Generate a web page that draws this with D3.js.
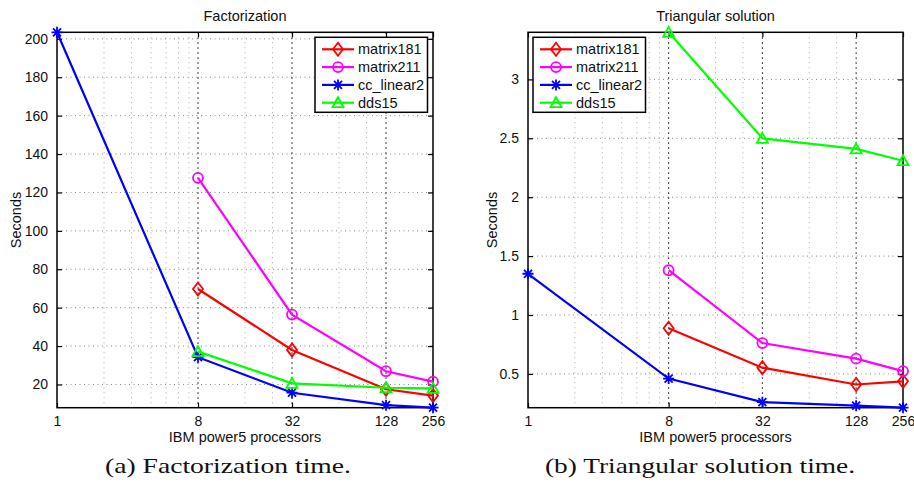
<!DOCTYPE html>
<html>
<head>
<meta charset="utf-8">
<script src="https://cdn.jsdelivr.net/npm/d3@7.9.0/dist/d3.min.js"></script>
<style>
  body { margin: 0; background: #fff; }
  svg { display: block; font-family: "Liberation Sans", Arial, sans-serif; }
</style>
</head>
<body>
<svg id="chart" width="914" height="487"></svg>
<script>
// processor counts (log2 x axis)
const procs = [1, 8, 32, 128, 256];
const xTicks = [1, 8, 32, 128, 256];
const xMinorTicks = [2, 3, 4, 5, 6, 7, 16, 24, 64, 96];

const seriesNames = ['matrix181', 'matrix211', 'cc_linear2', 'dds15'];
const seriesColors = ['#ff0000', '#ff00ff', '#0000ff', '#00ff00'];
const seriesMarkers = ['diamond', 'circle', 'star', 'triangle'];

// (a) factorization, seconds
const factMatrix181 = [null, 69.7, 38.0, 17.5, 14.2];
const factMatrix211 = [null, 127.6, 56.4, 26.9, 21.5];
const factCcLinear2 = [203.4, 34.2, 15.7, 9.2, 7.9];
const factDds15 = [null, 37.1, 20.6, 18.3, 18.0];
const factYTicks = [20, 40, 60, 80, 100, 120, 140, 160, 180, 200];

// (b) triangular solution, seconds
const triMatrix181 = [null, 0.887, 0.553, 0.41, 0.437];
const triMatrix211 = [null, 1.38, 0.762, 0.629, 0.524];
const triCcLinear2 = [1.35, 0.46, 0.26, 0.23, 0.213];
const triDds15 = [null, 3.40, 2.50, 2.41, 2.31];
const triYTicks = [0.5, 1, 1.5, 2, 2.5, 3];

const svg = d3.select('#chart');

function markerPath(type) {
  switch (type) {
    case 'diamond': return 'M0,-6.5L5,0L0,6.5L-5,0Z';
    case 'circle': return d3.arc()({ innerRadius: 0, outerRadius: 5, startAngle: 0, endAngle: 2 * Math.PI });
    case 'triangle': return 'M0,-5.5L5.5,4.5L-5.5,4.5Z';
    case 'star': return 'M0,-5.5V5.5M-5.5,0H5.5M-4,-4L4,4M-4,4L4,-4';
  }
}

function drawPanel(opts) {
  const { x0, x1, y0, y1 } = opts;
  const g = svg.append('g');

  const allValues = opts.series.flat().filter((v) => v !== null);
  const x = d3.scaleLog().base(2).domain([1, 256]).range([x0, x1]);
  const y = d3.scaleLinear().domain(d3.extent(allValues)).range([y1, y0]);

  // grid
  g.selectAll('.hgrid').data(opts.yTicks).join('line')
    .attr('x1', x0).attr('x2', x1)
    .attr('y1', (d) => y(d)).attr('y2', (d) => y(d))
    .attr('stroke', '#888').attr('stroke-width', 1).attr('stroke-dasharray', '1,3.5');
  g.selectAll('.vminor').data(xMinorTicks).join('line')
    .attr('x1', (d) => x(d)).attr('x2', (d) => x(d))
    .attr('y1', y0).attr('y2', y1)
    .attr('stroke', '#aaa').attr('stroke-width', 1).attr('stroke-dasharray', '1,4');
  g.selectAll('.vmajor').data(xTicks.slice(1, -1)).join('line')
    .attr('x1', (d) => x(d)).attr('x2', (d) => x(d))
    .attr('y1', y0).attr('y2', y1)
    .attr('stroke', '#000').attr('stroke-width', 1).attr('stroke-dasharray', '1.5,3.5');

  // axes (ticks inward on all four sides)
  const tick = 5;
  g.append('g').attr('transform', `translate(0,${y1})`)
    .call(d3.axisBottom(x).tickValues(xTicks).tickFormat(d3.format('d')).tickSizeInner(-tick).tickSizeOuter(0).tickPadding(8));
  g.append('g').attr('transform', `translate(0,${y0})`)
    .call(d3.axisTop(x).tickValues(xTicks).tickFormat('').tickSizeInner(-tick).tickSizeOuter(0));
  g.append('g').attr('transform', `translate(${x0},0)`)
    .call(d3.axisLeft(y).tickValues(opts.yTicks).tickFormat(d3.format('')).tickSizeInner(-tick).tickSizeOuter(0).tickPadding(9));
  g.append('g').attr('transform', `translate(${x1},0)`)
    .call(d3.axisRight(y).tickValues(opts.yTicks).tickFormat('').tickSizeInner(-tick).tickSizeOuter(0));
  g.selectAll('.domain').remove();
  g.selectAll('.tick line').attr('stroke', '#000').attr('stroke-width', 1.2);
  g.selectAll('.tick text').attr('font-size', 14).attr('fill', '#111')
    .attr('font-family', '"Liberation Sans", Arial, sans-serif');

  g.append('rect')
    .attr('x', x0).attr('y', y0).attr('width', x1 - x0).attr('height', y1 - y0)
    .attr('fill', 'none').attr('stroke', '#000').attr('stroke-width', 1.5);

  // series
  const line = d3.line()
    .defined((d) => d[1] !== null)
    .x((d) => x(d[0])).y((d) => y(d[1]));

  opts.series.forEach((vals, i) => {
    const pts = procs.map((p, j) => [p, vals[j]]);
    g.append('path')
      .attr('d', line(pts))
      .attr('fill', 'none').attr('stroke', seriesColors[i]).attr('stroke-width', 2.2);
    g.selectAll(null).data(pts.filter((d) => d[1] !== null)).join('path')
      .attr('transform', (d) => `translate(${x(d[0])},${y(d[1])})`)
      .attr('d', markerPath(seriesMarkers[i]))
      .attr('fill', 'none').attr('stroke', seriesColors[i]).attr('stroke-width', 1.8);
  });

  // labels
  g.append('text').attr('x', (x0 + x1) / 2).attr('y', 21)
    .attr('text-anchor', 'middle').attr('font-size', 14.5).attr('fill', '#111').text(opts.title);
  g.append('text').attr('x', (x0 + x1) / 2).attr('y', 442)
    .attr('text-anchor', 'middle').attr('font-size', 14.5).attr('fill', '#111').text('IBM power5 processors');
  g.append('text').attr('transform', `translate(${opts.ylabelX},220) rotate(-90)`)
    .attr('text-anchor', 'middle').attr('dy', '0.35em').attr('font-size', 14.5).attr('fill', '#111').text('Seconds');
  g.append('text').attr('x', opts.captionX).attr('y', 473)
    .attr('text-anchor', 'middle').attr('font-family', '"Liberation Serif", "DejaVu Serif", serif')
    .attr('font-size', 21).attr('fill', '#111')
    .attr('textLength', opts.captionW).attr('lengthAdjust', 'spacingAndGlyphs')
    .text(opts.caption);

  // legend
  const lx = opts.legendX, ly = 37.3;
  const leg = g.append('g');
  leg.append('rect').attr('x', lx).attr('y', ly).attr('width', 112.5).attr('height', 75)
    .attr('fill', '#fff').attr('stroke', '#000').attr('stroke-width', 1.5);
  seriesNames.forEach((name, i) => {
    const yy = ly + 12 + i * 17.8;
    leg.append('line').attr('x1', lx + 7).attr('x2', lx + 39).attr('y1', yy).attr('y2', yy)
      .attr('stroke', seriesColors[i]).attr('stroke-width', 2.2);
    leg.append('path').attr('transform', `translate(${lx + 23},${yy})`)
      .attr('d', markerPath(seriesMarkers[i]))
      .attr('fill', 'none').attr('stroke', seriesColors[i]).attr('stroke-width', 1.8);
    leg.append('text').attr('x', lx + 43).attr('y', yy).attr('dy', '0.35em')
      .attr('font-size', 14.5).attr('fill', '#111').text(name);
  });
}

drawPanel({
  x0: 57, x1: 433, y0: 32.3, y1: 407.7,
  series: [factMatrix181, factMatrix211, factCcLinear2, factDds15],
  yTicks: factYTicks,
  title: 'Factorization',
  ylabelX: 16,
  legendX: 315,
  caption: '(a) Factorization time.',
  captionX: 228, captionW: 246
});

drawPanel({
  x0: 528, x1: 903, y0: 32.3, y1: 407.7,
  series: [triMatrix181, triMatrix211, triCcLinear2, triDds15],
  yTicks: triYTicks,
  title: 'Triangular solution',
  ylabelX: 492,
  legendX: 533,
  caption: '(b) Triangular solution time.',
  captionX: 700, captionW: 310
});
</script>
</body>
</html>
